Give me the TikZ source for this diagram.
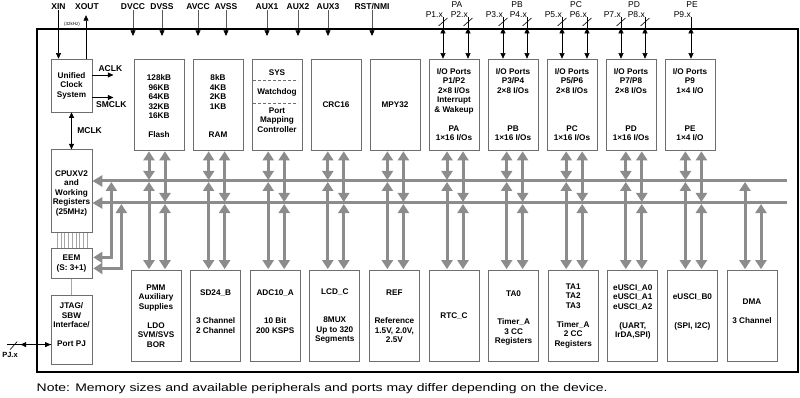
\documentclass[tikz,border=0pt]{standalone}
\usepackage{fontspec}
\setmainfont{Liberation Sans}
\usetikzlibrary{arrows.meta, positioning}
\definecolor{busgray}{RGB}{140,140,140}
\definecolor{boxgray}{RGB}{110,110,110}

\begin{document}
\begin{tikzpicture}[
    x=1pt, y=-1pt,
    mod/.style={rectangle, draw=boxgray, line width=0.7pt, align=center, inner sep=0pt,
        minimum width=50pt, minimum height=91pt, font=\bfseries\fontsize{8.2}{9.5}\selectfont},
    side/.style={mod, minimum width=41pt},
    modtxt/.style={align=center, inner sep=0pt, font=\bfseries\fontsize{8.2}{9.5}\selectfont},
    pinlbl/.style={inner sep=0.5pt, font=\bfseries\fontsize{8.5}{10}\selectfont},
    portlbl/.style={inner sep=0pt, font=\fontsize{8.5}{10}\selectfont},
    pin/.style={line width=0.6pt, -{Triangle[width=5pt,length=5.5pt]}},
    pinboth/.style={line width=0.6pt, {Triangle[width=5pt,length=5.5pt]}-{Triangle[width=5pt,length=5.5pt]}},
    busline/.style={draw=busgray, line width=3pt},
    busarrow/.style={busline, {Triangle[width=11pt,length=9pt]}-{Triangle[width=11pt,length=9pt]},
        shorten <=1pt, shorten >=1pt},
    faint/.style={draw=black!35, line width=0.5pt}
]
\useasboundingbox (0,0) rectangle (800,398);

% chip outline
\node[draw, line width=2.2pt, minimum width=761pt, minimum height=343pt, inner sep=0pt] (chip) at (417.5,200.5) {};

% left column
\node[side, minimum height=53pt] (ucs) at (71.5,85.5) {Unified\\Clock\\System};
\node[side, minimum height=83pt, below=37pt of ucs] (cpu) {\mbox{}\\CPUXV2\\and\\Working\\Registers\\(25MHz)};
\node[side, minimum height=30pt, below=15pt of cpu] (eem) {EEM\\(S: 3+1)};
\node[side, minimum height=69pt, below=16pt of eem] (jtag) {JTAG/\\SBW\\Interface/\\[9.5pt]Port PJ\\\mbox{}};

% top row
\node[mod] (flash) at (159,104.5) {\mbox{}\\128kB\\96KB\\64KB\\32KB\\16KB\\[9.5pt]Flash};
\node[mod, right=8.3pt of flash] (ram) {\mbox{}\\8kB\\4KB\\2KB\\1KB\\[19pt]RAM};
\node[mod, right=8.3pt of ram] (sys) {};
\node[mod, right=8.3pt of sys] (crc) {CRC16};
\node[mod, right=8.3pt of crc] (mpy) {MPY32};
\node[mod, right=8.3pt of mpy] (pa) {I/O Ports\\P1/P2\\2×8 I/Os\\Interrupt\\\& Wakeup\\[9.5pt]PA\\1×16 I/Os};
\node[mod, right=8.3pt of pa] (pb) {I/O Ports\\P3/P4\\2×8 I/Os\\[28.5pt]PB\\1×16 I/Os};
\node[mod, right=8.3pt of pb] (pc) {I/O Ports\\P5/P6\\2×8 I/Os\\[28.5pt]PC\\1×16 I/Os};
\node[mod, right=8.3pt of pc] (pd) {I/O Ports\\P7/P8\\2×8 I/Os\\[28.5pt]PD\\1×16 I/Os};
\node[mod, right=8.3pt of pd] (pe) {I/O Ports\\P9\\1×4 I/O\\[28.5pt]PE\\1×4 I/O};

\node[modtxt] at ([yshift=-14pt]sys.north) {SYS};
\node[modtxt] at ([yshift=-33.5pt]sys.north) {Watchdog};
\node[modtxt] at ([yshift=-61.5pt]sys.north) {Port\\Mapping\\Controller};
\draw[boxgray, dash pattern=on 3pt off 2pt] ([yshift=-22pt]sys.north west) ++(1.5,0) -- ++(45,0);
\draw[boxgray, dash pattern=on 3pt off 2pt] ([yshift=-45pt]sys.north west) ++(1.5,0) -- ++(45,0);

% bottom row
\node[mod] (pmm) at (156,316) {PMM\\Auxiliary\\Supplies\\[9.5pt]LDO\\SVM/SVS\\BOR};
\node[mod, right=8.9pt of pmm] (sdb) {SD24\_B\\[19pt]3 Channel\\2 Channel\\\mbox{}};
\node[mod, right=8.9pt of sdb] (adc) {ADC10\_A\\[19pt]10 Bit\\200 KSPS\\\mbox{}};
\node[mod, right=8.9pt of adc] (lcd) {LCD\_C\\[19pt]8MUX\\Up to 320\\Segments};
\node[mod, right=8.9pt of lcd] (vref) {REF\\[19pt]Reference\\1.5V, 2.0V,\\2.5V};
\node[mod, right=8.9pt of vref] (rtc) {RTC\_C};
\node[mod, right=8.9pt of rtc] (tazero) {\mbox{}\\TA0\\[19pt]Timer\_A\\3 CC\\Registers};
\node[mod, right=8.9pt of tazero] (taone) {TA1\\TA2\\TA3\\[9.5pt]Timer\_A\\2 CC\\Registers};
\node[mod, right=8.9pt of taone] (uscia) {eUSCI\_A0\\eUSCI\_A1\\eUSCI\_A2\\[9.5pt](UART,\\IrDA,SPI)\\\mbox{}};
\node[mod, right=8.9pt of uscia] (uscib) {eUSCI\_B0\\[19pt](SPI, I2C)\\\mbox{}};
\node[mod, right=8.9pt of uscib] (dma) {DMA\\[9.5pt]3 Channel\\\mbox{}};

% buses
\coordinate (abus) at (787,181);
\coordinate (dbus) at (787,203);
\draw[busline, {Triangle[width=11pt,length=10pt]}-] (cpu.east |- abus) -- (abus);
\draw[busline, {Triangle[width=11pt,length=10pt]}-] (cpu.east |- dbus) -- (dbus);

\foreach \t/\b in {flash/pmm, ram/sdb, sys/adc, crc/lcd, mpy/vref, pa/rtc, pb/tazero, pc/taone, pd/uscia, pe/uscib}{
  \path (\b.north) ++(-7,0) coordinate (cl) ++(16,0) coordinate (cr);
  \draw[busarrow] (cl |- \t.south) -- (cl |- abus);
  \draw[busarrow] (cr |- \t.south) -- (cr |- dbus);
}
\foreach \b in {pmm, sdb, adc, lcd, vref, rtc, tazero, taone, uscia, uscib, dma}{
  \path (\b.north) ++(-7,0) coordinate (cl) ++(16,0) coordinate (cr);
  \draw[busarrow] (cl |- abus) -- (cl);
  \draw[busarrow] (cr |- dbus) -- (cr);
}

% debug taps
\path (cpu.east |- abus) ++(19,0) coordinate (tapa);
\path (cpu.east |- dbus) ++(29,0) coordinate (tapd);
\draw[busarrow] (tapa) |- ([yshift=6pt]eem.east);
\draw[busarrow] (tapd) |- ([yshift=-5pt]eem.east);

\foreach \i in {0,...,8}
  \draw[faint] (cpu.south west) ++(6.5+3.75*\i,0) -- ++(0,15);
\draw[faint] (eem) -- (jtag);

% clocks
\node[pinlbl] (xin) at (58.5,6.5) {XIN};
\node[pinlbl] (xout) at (87,6.5) {XOUT};
\node[inner sep=0pt, font=\fontsize{4.5}{5}\selectfont] (khz) at (72,24) {(32kHz)};
\draw[pin] (xin.south) -- (xin.south |- ucs.north);
\draw[pin, shorten >=5pt] ([xshift=-1pt]xout.south |- ucs.north) -- ([xshift=-1pt]xout.south);
\draw[pin] ([yshift=10.5pt]ucs.east) -- ++(21,0) node[pinlbl, above=2.5pt, xshift=-3pt] {ACLK};
\draw[pin] ([yshift=-12pt]ucs.east) -- ++(21,0) node[pinlbl, below=3pt, xshift=-2pt] {SMCLK};
\draw[pinboth] (ucs) -- (cpu) node[pinlbl, midway, right=5pt] {MCLK};

% supply and control pins
\foreach \x/\n/\txt in {133/dvcc/DVCC, 162/dvss/DVSS, 198/avcc/AVCC, 226/avss/AVSS, 267/auxa/AUX1, 298/auxb/AUX2, 328/auxc/AUX3, 372/rst/{RST/NMI}}{
  \node[pinlbl] (\n) at (\x,6.5) {\txt};
  \draw[pin] (\n.south) -- (\n.south |- chip.north) -- ++(0,8);
}

% port pins
\foreach \n/\x/\txt in {grpa/457/PA, grpb/517/PB, grpc/576/PC, grpd/634/PD, grpe/692/PE}
  \node[portlbl] (\n) at (\x,4.5) {\txt};
\foreach \x/\n/\txt/\b in {443/pone/P1.x/pa, 468/ptwo/P2.x/pa, 503/pthree/P3.x/pb, 527/pfour/P4.x/pb, 562/pfive/P5.x/pc, 587/psix/P6.x/pc, 621/pseven/P7.x/pd, 645/peight/P8.x/pd}{
  \node[portlbl, anchor=south east] (\n) at (\x,17.5) {\txt};
  \draw[line width=0.6pt] (\n.south east) -- (\n.south east |- chip.north);
  \draw[line width=0.6pt] (\n.south east) ++(-4.5,8.5) -- ++(9,-8);
  \draw[pinboth] (\n.south east |- chip.north) -- (\n.south east |- \b.north);
}
\node[portlbl, anchor=south east] (pnine) at (691,17.5) {P9.x};
\draw[line width=0.6pt] (pnine.south east) -- (pnine.south east |- chip.north);
\draw[pinboth] (pnine.south east |- chip.north) -- (pnine.south east |- pe.north);

% JTAG port
\node[pinlbl, font=\bfseries\fontsize{7.5}{9}\selectfont] (pj) at (10,355) {PJ.x};
\draw[line width=0.6pt] ([yshift=-15pt]jtag.west) -- ++(-44,0) coordinate (pjend);
\draw[pinboth] ([yshift=-15pt]jtag.west) -- ++(-30,0);
\draw[line width=0.6pt] (pjend) ++(3.5,5) -- ++(7,-8);

\node[anchor=west, inner sep=0pt] (note) at (36.5,389) {\scalebox{1.27}[1]{\fontsize{11}{13}\selectfont Note: Memory sizes and available peripherals and ports may differ depending on the device.}};
\end{tikzpicture}
\end{document}
